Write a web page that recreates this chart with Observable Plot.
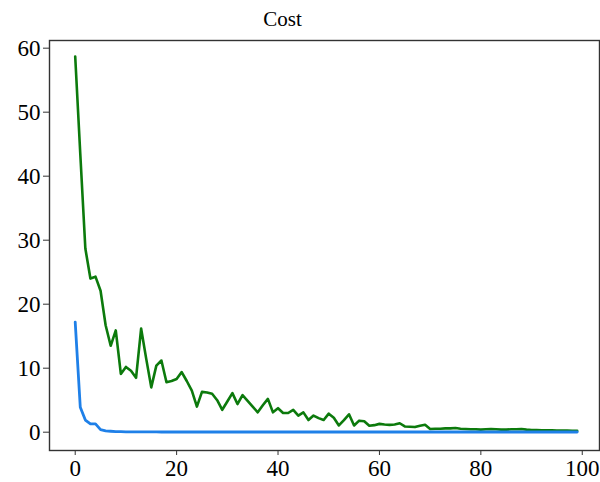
<!DOCTYPE html>
<html>
<head>
<meta charset="utf-8">
<script src="https://cdn.jsdelivr.net/npm/d3@7"></script>
<script src="https://cdn.jsdelivr.net/npm/@observablehq/plot@0.6"></script>
<style>
  body { margin: 0; background: #fff; }
  #wrap { position: relative; width: 600px; height: 482px; }
  #title { position: absolute; left: 0; top: 7px; width: 565px; text-align: center;
           font-family: "Liberation Serif", "DejaVu Serif", serif; font-size: 21px; color: #000; }
</style>
</head>
<body>
<div id="wrap"><div id="title">Cost</div></div>
<script>
const greenCost = [58.7, 43.5, 28.7, 24.0, 24.3, 22.1, 16.7, 13.5, 15.9, 9.1,
  10.2, 9.6, 8.5, 16.2, 11.5, 7.0, 10.4, 11.2, 7.8, 8.0,
  8.3, 9.4, 8.0, 6.5, 4.0, 6.3, 6.2, 6.0, 5.0, 3.5,
  4.8, 6.1, 4.4, 5.8, 4.9, 4.0, 3.1, 4.2, 5.2, 3.1,
  3.75, 3.0, 3.0, 3.5, 2.6, 3.1, 1.9, 2.6, 2.2, 1.9,
  2.9, 2.25, 1.05, 1.9, 2.8, 1.05, 1.8, 1.7, 1.0, 1.1,
  1.3, 1.2, 1.15, 1.2, 1.4, 0.9, 0.85, 0.8, 1.0, 1.15,
  0.5, 0.55, 0.55, 0.6, 0.6, 0.65, 0.55, 0.5, 0.45, 0.45,
  0.4, 0.45, 0.5, 0.45, 0.4, 0.4, 0.45, 0.45, 0.5, 0.4,
  0.35, 0.35, 0.3, 0.3, 0.3, 0.25, 0.25, 0.25, 0.2, 0.2];
const blueCost = [17.2, 3.9, 1.9, 1.3, 1.3, 0.4, 0.2, 0.15, 0.1, 0.08,
  0.06, 0.05, 0.05, 0.04, 0.04, 0.04, 0.04, 0.03, 0.03, 0.03,
  0.03, 0.03, 0.03, 0.03, 0.03, 0.03, 0.03, 0.03, 0.03, 0.03,
  0.03, 0.03, 0.03, 0.03, 0.03, 0.03, 0.03, 0.03, 0.03, 0.03,
  0.03, 0.03, 0.03, 0.03, 0.03, 0.03, 0.03, 0.03, 0.03, 0.03,
  0.03, 0.03, 0.03, 0.03, 0.03, 0.03, 0.03, 0.03, 0.03, 0.03,
  0.03, 0.03, 0.03, 0.03, 0.03, 0.03, 0.03, 0.03, 0.03, 0.03,
  0.03, 0.03, 0.03, 0.03, 0.03, 0.03, 0.03, 0.03, 0.03, 0.03,
  0.03, 0.03, 0.03, 0.03, 0.03, 0.03, 0.03, 0.03, 0.03, 0.03,
  0.03, 0.03, 0.03, 0.03, 0.03, 0.03, 0.03, 0.03, 0.03, 0.03];
const xTicks = [0, 20, 40, 60, 80, 100];
const yTicks = [0, 10, 20, 30, 40, 50, 60];

const green = greenCost.map((v, i) => ({i, v}));
const blue = blueCost.map((v, i) => ({i, v}));

const chart = Plot.plot({
  width: 600,
  height: 482,
  marginTop: 40,
  marginBottom: 32,
  marginLeft: 49,
  marginRight: 1,
  style: {fontFamily: "'Liberation Serif', 'DejaVu Serif', serif", fontSize: "23px", color: "#000", background: "#fff"},
  x: {domain: [-5.07, 103.4]},
  y: {domain: [-2.86, 61.2]},
  marks: [
    Plot.line(green, {x: "i", y: "v", stroke: "#0c7a0c", strokeWidth: 2.6}),
    Plot.line(blue, {x: "i", y: "v", stroke: "#1f80e8", strokeWidth: 2.8}),
    Plot.frame({stroke: "#333", strokeWidth: 1.4}),
    Plot.axisX({ticks: xTicks, tickSize: 5, tickPadding: 4, label: null, stroke: "#333", fontSize: 23}),
    Plot.axisY({ticks: yTicks, tickSize: 6, tickPadding: 3, label: null, stroke: "#333", fontSize: 23})
  ]
});
document.getElementById("wrap").prepend(chart);
</script>
</body>
</html>
